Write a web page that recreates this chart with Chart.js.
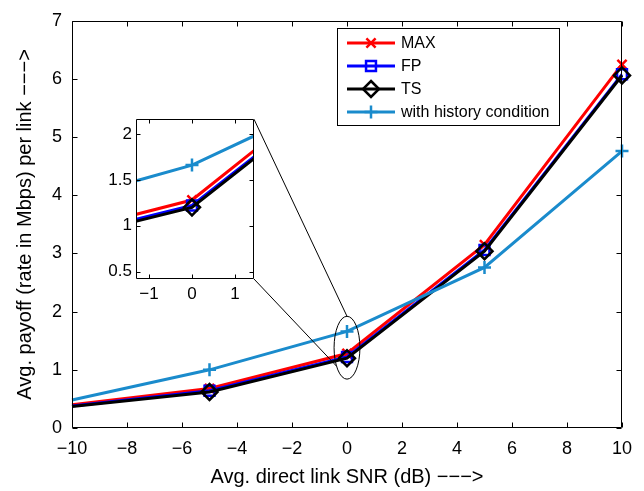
<!DOCTYPE html>
<html><head><meta charset="utf-8">
<script src="https://cdn.jsdelivr.net/npm/chart.js@4/dist/chart.umd.min.js"></script>
<style>
html,body{margin:0;padding:0;background:#fff;}
#wrap{position:relative;width:644px;height:491px;overflow:hidden;}
#main{position:absolute;left:0;top:0;}
#inset{position:absolute;left:90px;top:105px;}
</style></head><body>
<div id="wrap">
<canvas id="main" width="644" height="491"></canvas>
<canvas id="inset" width="175" height="205"></canvas>
</div>
<script>
// ---- data ----
const snrDb = [-10, -5, 0, 5, 10];
const maxPayoff = [0.40, 0.68, 1.28, 3.15, 6.25];
const fpPayoff = [0.38, 0.64, 1.22, 3.06, 6.08];
const tsPayoff = [0.37, 0.62, 1.20, 3.04, 6.06];
const historyPayoff = [0.48, 1.00, 1.66, 2.76, 4.76];
const seriesLabels = ['MAX', 'FP', 'TS', 'with history condition'];
const xTickValues = [-10, -8, -6, -4, -2, 0, 2, 4, 6, 8, 10];
const yTickValues = [0, 1, 2, 3, 4, 5, 6, 7];
const insetXTickValues = [-1, 0, 1];
const insetYTickValues = [0.5, 1, 1.5, 2];
const xTitle = 'Avg. direct link SNR (dB) \u2212\u2212\u2212>';
const yTitle = 'Avg. payoff (rate in Mbps) per link \u2212\u2212\u2212>';

// ---- styles ----
const FONT = "'Liberation Sans', Arial, Helvetica, sans-serif";
const seriesStyles = [
  {color: '#ff0000', pointStyle: 'crossRot', radius: 6.5, order: 3},
  {color: '#0000ff', pointStyle: 'rect', radius: 7, order: 2},
  {color: '#000000', pointStyle: 'rectRot', radius: 8, order: 1},
  {color: '#1a8bcc', pointStyle: 'cross', radius: 6.5, order: 0}
];
const seriesValues = [maxPayoff, fpPayoff, tsPayoff, historyPayoff];

function fmt(v) { return String(v).replace('-', '\u2212'); }

function makeDatasets(clip) {
  return seriesValues.map((vals, i) => {
    const s = seriesStyles[i];
    return {
      label: seriesLabels[i],
      data: snrDb.map((x, k) => ({x: x, y: vals[k]})),
      borderColor: s.color, backgroundColor: 'transparent',
      borderWidth: 3, pointStyle: s.pointStyle,
      pointRadius: snrDb.map((x, k) => k === 0 ? 0 : s.radius),
      pointBorderWidth: 2.5, pointBorderColor: s.color, pointBackgroundColor: 'transparent',
      tension: 0, order: s.order, clip: clip
    };
  });
}

function framePlugin(len) {
  return {
    id: 'frame',
    beforeDraw(chart) {
      if (chart.options._whiteArea) {
        const a = chart.chartArea, ctx = chart.ctx;
        ctx.save(); ctx.fillStyle = '#fff';
        ctx.fillRect(a.left, a.top, a.right - a.left, a.bottom - a.top);
        ctx.restore();
      }
    },
    afterDatasetsDraw(chart) {
      const {ctx, chartArea: a, scales: {x, y}} = chart;
      ctx.save();
      ctx.strokeStyle = '#000'; ctx.lineWidth = 1;
      ctx.beginPath();
      const L = Math.round(a.left) + 0.5, R = Math.round(a.right) - 0.5;
      const T = Math.round(a.top) + 0.5, B = Math.round(a.bottom) - 0.5;
      ctx.rect(L, T, R - L, B - T);
      x.ticks.forEach(t => {
        const p = Math.round(x.getPixelForValue(t.value)) + 0.5;
        ctx.moveTo(p, B); ctx.lineTo(p, B - len);
        ctx.moveTo(p, T); ctx.lineTo(p, T + len);
      });
      y.ticks.forEach(t => {
        const p = Math.round(y.getPixelForValue(t.value)) + 0.5;
        ctx.moveTo(L, p); ctx.lineTo(L + len, p);
        ctx.moveTo(R, p); ctx.lineTo(R - len, p);
      });
      ctx.stroke();
      ctx.restore();
    }
  };
}

function drawMarker(ctx, style, r, x, y) {
  ctx.beginPath();
  if (style === 'cross') {
    ctx.moveTo(x - r, y); ctx.lineTo(x + r, y); ctx.moveTo(x, y - r); ctx.lineTo(x, y + r);
  } else if (style === 'crossRot') {
    const d = r * Math.SQRT1_2;
    ctx.moveTo(x - d, y - d); ctx.lineTo(x + d, y + d); ctx.moveTo(x - d, y + d); ctx.lineTo(x + d, y - d);
  } else if (style === 'rect') {
    const d = r * Math.SQRT1_2;
    ctx.rect(x - d, y - d, 2 * d, 2 * d);
  } else if (style === 'rectRot') {
    ctx.moveTo(x, y - r); ctx.lineTo(x + r, y); ctx.lineTo(x, y + r); ctx.lineTo(x - r, y); ctx.closePath();
  }
  ctx.stroke();
}

// ---- inset chart ----
const insetChart = new Chart(document.getElementById('inset'), {
  type: 'line',
  data: {datasets: makeDatasets(0)},
  plugins: [framePlugin(4)],
  options: {
    _whiteArea: true,
    responsive: false, animation: false, events: [],
    layout: {padding: {left: 0, top: 11, right: 11, bottom: 0}},
    plugins: {legend: {display: false}, tooltip: {enabled: false}},
    scales: {
      x: {
        type: 'linear', min: -1.3, max: 1.44,
        afterBuildTicks: s => { s.ticks = insetXTickValues.map(v => ({value: v})); },
        afterFit: s => { s.height = 31; },
        ticks: {padding: 5, color: '#000', font: {family: FONT, size: 17}, callback: v => fmt(v), maxRotation: 0, autoSkip: false},
        grid: {display: false, drawTicks: false}, border: {display: false}
      },
      y: {
        type: 'linear', min: 0.42, max: 2.16,
        afterBuildTicks: s => { s.ticks = insetYTickValues.map(v => ({value: v})); },
        afterFit: s => { s.width = 46; },
        ticks: {padding: 4, color: '#000', font: {family: FONT, size: 17}, callback: v => fmt(v), autoSkip: false},
        grid: {display: false, drawTicks: false}, border: {display: false}
      }
    }
  }
});

// ---- annotation (zoom ellipse) in data units ----
const zoomCenter = {x: 0, y: 1.38};
const zoomHalf = {x: 0.47, y: 0.54};
const insetOffset = {left: 90, top: 105};

const annotationPlugin = {
  id: 'annot',
  afterDraw(chart) {
    const {ctx, scales: {x, y}} = chart;
    const cx = x.getPixelForValue(zoomCenter.x), cy = y.getPixelForValue(zoomCenter.y);
    const rx = x.getPixelForValue(zoomCenter.x + zoomHalf.x) - cx;
    const ry = cy - y.getPixelForValue(zoomCenter.y + zoomHalf.y);
    ctx.save();
    ctx.strokeStyle = '#000'; ctx.lineWidth = 1;
    ctx.beginPath(); ctx.ellipse(cx, cy, rx, ry, 0, 0, Math.PI * 2); ctx.stroke();
    const ia = insetChart.chartArea;
    const ir = insetOffset.left + ia.right, it = insetOffset.top + ia.top, ib = insetOffset.top + ia.bottom;
    ctx.beginPath();
    ctx.moveTo(ir, it); ctx.lineTo(cx, cy - ry);
    ctx.moveTo(ir, ib); ctx.lineTo(cx - rx * 0.81, cy + ry * 0.587);
    ctx.stroke();

    // legend
    const bx = 337.5, by = 28.5, bw = 222, bh = 97;
    ctx.fillStyle = '#fff'; ctx.fillRect(bx, by, bw, bh);
    ctx.strokeRect(bx, by, bw, bh);
    ctx.font = '16px ' + FONT; ctx.textBaseline = 'middle'; ctx.textAlign = 'left';
    chart.data.datasets.forEach((ds, i) => {
      const s = seriesStyles[i];
      const yy = 43 + i * 23;
      ctx.strokeStyle = s.color; ctx.lineWidth = 3;
      ctx.beginPath(); ctx.moveTo(347, yy); ctx.lineTo(395, yy); ctx.stroke();
      ctx.lineWidth = 2.5;
      drawMarker(ctx, s.pointStyle, s.radius, 371, yy);
      ctx.fillStyle = '#000';
      ctx.fillText(ds.label, 401, yy + 1);
    });
    ctx.restore();
  }
};

// ---- main chart ----
new Chart(document.getElementById('main'), {
  type: 'line',
  data: {datasets: makeDatasets(false)},
  plugins: [framePlugin(5), annotationPlugin],
  options: {
    responsive: false, animation: false, events: [],
    layout: {padding: {left: 0, top: 20, right: 22, bottom: 0}},
    plugins: {legend: {display: false}, tooltip: {enabled: false}},
    scales: {
      x: {
        type: 'linear', min: -10, max: 10,
        afterBuildTicks: s => { s.ticks = xTickValues.map(v => ({value: v})); },
        afterFit: s => { s.height = 63; },
        ticks: {padding: 10, color: '#000', font: {family: FONT, size: 18}, callback: v => fmt(v), maxRotation: 0, autoSkip: false},
        grid: {display: false, drawTicks: false}, border: {display: false},
        title: {display: true, text: xTitle, color: '#000', font: {family: FONT, size: 20, lineHeight: 1.2}, padding: {top: 0, bottom: 2}}
      },
      y: {
        type: 'linear', min: 0, max: 7,
        afterBuildTicks: s => { s.ticks = yTickValues.map(v => ({value: v})); },
        afterFit: s => { s.width = 72; },
        ticks: {padding: 10, color: '#000', font: {family: FONT, size: 18}, callback: v => fmt(v), autoSkip: false},
        grid: {display: false, drawTicks: false}, border: {display: false},
        title: {display: true, text: yTitle, color: '#000', font: {family: FONT, size: 20, lineHeight: 1.2}, padding: {top: 13.5, bottom: 0}}
      }
    }
  }
});
</script>
</body></html>
